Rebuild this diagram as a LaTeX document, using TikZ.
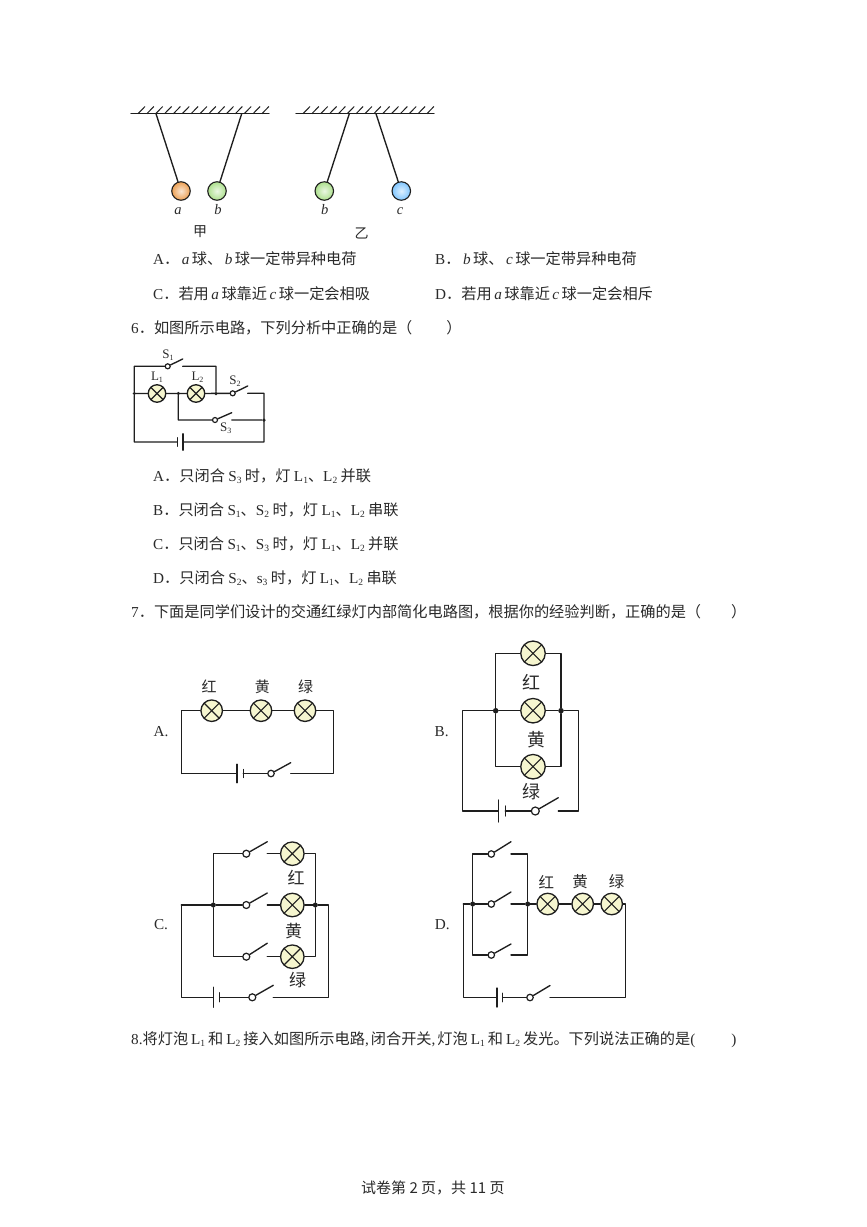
\documentclass[tikz,border=0pt]{standalone}
\usepackage{fontspec}
\setmainfont{Noto Sans CJK SC}
\newfontfamily\lat{Liberation Serif}
\usetikzlibrary{shadings}
\definecolor{ink}{HTML}{1E1E1E}
\definecolor{txt}{HTML}{2A2A2A}
\definecolor{lampc}{HTML}{F6F6CF}
\newcommand{\Lt}[1]{{\lat #1}}
\newcommand{\It}[1]{\hspace{2.5pt}{\lat\itshape #1}\hspace{2.5pt}}
\newcommand{\Sb}[2]{{\lat #1\raisebox{-2.5pt}{\fontsize{9.5}{10}\selectfont #2}}}
\newcommand{\Tb}[2]{\hspace{3pt}{\lat #1\raisebox{-2.5pt}{\fontsize{9.5}{10}\selectfont #2}}\hspace{3pt}}
\newcommand{\Ss}[2]{#1\raisebox{-2pt}{\fontsize{8}{8}\selectfont #2}}
\tikzset{
  wire/.style={draw=ink,line width=1.35pt,line cap=round,line join=round},
  lamp/.style={circle,draw=ink,fill=lampc,line width=1.3pt,inner sep=0pt,minimum size=#1,
    path picture={\draw[ink,line width=1.1pt]
      (path picture bounding box.north west)--(path picture bounding box.south east)
      (path picture bounding box.north east)--(path picture bounding box.south west);}},
  swc/.style={circle,draw=ink,fill=white,line width=1.2pt,inner sep=0pt,minimum size=#1},
  dot/.style={circle,fill=ink,inner sep=0pt,minimum size=#1},
  ball/.style={circle,draw=ink,line width=1.1pt,inner sep=0pt,minimum size=18.5pt,inner color=#1!25!white,outer color=#1},
  line/.style={anchor=base west,inner sep=0pt,text=txt,font=\fontsize{15.2}{18}\selectfont},
  footer/.style={line,font=\fontsize{15}{17}\selectfont},
  lbl/.style={inner sep=0pt,text=txt,font=\fontsize{#1}{#1}\selectfont},
  tiny/.style={inner sep=0pt,text=txt,font=\lat\fontsize{#1}{#1}\selectfont},
}
% switch: name, x, y, diameter, dx, dy
\newcommand{\swt}[6]{%
  \node[swc=#4] (#1) at (#2,#3) {};
  \coordinate (#1c) at (#2+#5,#3);
  \coordinate (#1l) at (#2+#5,#3-#6);
  \draw[wire] (#1) -- (#1l);
}
% battery: name, long x, short x, y, long half, short half
\newcommand{\batt}[6]{%
  \coordinate (#1L) at (#2,#4);
  \coordinate (#1S) at (#3,#4);
  \coordinate (#1La) at (#2,#4-#5);
  \coordinate (#1Lb) at (#2,#4+#5);
  \coordinate (#1Sa) at (#3,#4-#6);
  \coordinate (#1Sb) at (#3,#4+#6);
  \draw[wire] (#1La) -- (#1Lb) (#1Sa) -- (#1Sb);
}
\begin{document}
\begin{tikzpicture}[x=1pt,y=-1pt]
\useasboundingbox (0,0) rectangle (867,1227);
\fill[white] (0,0) rectangle (867,1227);

% ---------- pendulums
\coordinate (ca1) at (131,113.7); \coordinate (ca2) at (269,113.7);
\coordinate (cb1) at (296,113.7); \coordinate (cb2) at (434,113.7);
\draw[wire] (ca1) -- (ca2) (cb1) -- (cb2);
\foreach \i in {0,...,14} {
  \draw[ink,line width=1pt] (138+\i*8.85,113.7) -- ++(7,-7.2);
  \draw[ink,line width=1pt] (303+\i*8.85,113.7) -- ++(7,-7.2);
}
\node[ball=orange!60!brown!75!white] (ba) at (181,191) {};
\node[ball=green!45!olive!45!white] (bb) at (217,191) {};
\node[ball=green!45!olive!45!white] (bd) at (324.3,191) {};
\node[ball=cyan!55!blue!50!white] (bc) at (401.3,191) {};
\coordinate (ha) at (156,113.7); \coordinate (hb) at (241.7,113.7);
\coordinate (hd) at (349.3,113.7); \coordinate (hc) at (376,113.7);
\draw[wire] (ha) -- (ba) (hb) -- (bb) (hd) -- (bd) (hc) -- (bc);
\node[tiny=14.5] (la) at (178,211) {\itshape a};
\node[tiny=14.5] (lb) at (218,210) {\itshape b};
\node[tiny=14.5] (ld) at (324.7,210) {\itshape b};
\node[tiny=14.5] (lc) at (400,211) {\itshape c};
\node[lbl=14] (jia) at (200,231.7) {甲};
\node[lbl=14] (yi) at (361.7,233) {乙};

% ---------- text
\node[line] (t5a) at (153,264) {\Lt{A}．\It{a}球、\It{b}球一定带异种电荷};
\node[line] (t5b) at (435,264) {\Lt{B}．\It{b}球、\It{c}球一定带异种电荷};
\node[line] (t5c) at (153,299) {\Lt{C}．若用\It{a}球靠近\It{c}球一定会相吸};
\node[line] (t5d) at (435,299) {\Lt{D}．若用\It{a}球靠近\It{c}球一定会相斥};
\node[line] (t6) at (131,333) {\Lt{6}．如图所示电路，下列分析中正确的是（\hspace{34pt}）};
\node[line] (o1) at (153,481) {\Lt{A}．只闭合 \Sb{S}{3} 时，灯 \Sb{L}{1}、\Sb{L}{2} 并联};
\node[line] (o2) at (153,515) {\Lt{B}．只闭合 \Sb{S}{1}、\Sb{S}{2} 时，灯 \Sb{L}{1}、\Sb{L}{2} 串联};
\node[line] (o3) at (153,549) {\Lt{C}．只闭合 \Sb{S}{1}、\Sb{S}{3} 时，灯 \Sb{L}{1}、\Sb{L}{2} 并联};
\node[line] (o4) at (153,583) {\Lt{D}．只闭合 \Sb{S}{2}、\Sb{s}{3} 时，灯 \Sb{L}{1}、\Sb{L}{2} 串联};
\node[line] (t7) at (131,617) {\Lt{7}．下面是同学们设计的交通红绿灯内部简化电路图，根据你的经验判断，正确的是（\hspace{30pt}）};
\node[line] (t8) at (131,1044) {\Lt{8.}将灯泡\Tb{L}{1}和\Tb{L}{2}接入如图所示电路\Lt{,}\hspace{2pt}闭合开关\Lt{,}\hspace{2pt}灯泡\Tb{L}{1}和\Tb{L}{2}发光。下列说法正确的是\Lt{(}\hspace{36pt}\Lt{)}};
\node[footer] (foot) at (361,1193) {试卷第 2 页，共 11 页};

% ---------- circuit 6
\coordinate (a1) at (134.3,366.3); \coordinate (a2) at (216,366.3);
\coordinate (a3) at (264,393.3); \coordinate (a4) at (178.3,420);
\coordinate (a5) at (134.3,442); \coordinate (a6) at (264,442);
\node[lamp=17.5pt] (L1) at (157,393.5) {};
\node[lamp=17.5pt] (L2) at (196,393.5) {};
\node[dot=3.5pt] (j1) at (134.3,393.5) {};
\node[dot=3.5pt] (j2) at (178.3,393.5) {};
\node[dot=3.5pt] (j3) at (216,393.5) {};
\node[dot=3.5pt] (j4) at (264,420) {};
\swt{s1}{167.7}{366.3}{5pt}{15}{7.3}
\swt{s2}{232.7}{393.3}{5pt}{15}{7.3}
\swt{s3}{215}{420}{5pt}{16.7}{7.3}
\batt{ba6}{183}{177.3}{442}{8.2}{4.2}
\draw[wire] (j1) -- (a1) -- (s1) (s1c) -- (a2) -- (j3)
  (j1) -- (L1) -- (L2) -- (s2) (s2c) -- (a3) -- (a6) -- (ba6L)
  (ba6S) -- (a5) -- (j1)
  (j2) -- (a4) -- (s3) (s3c) -- (j4);
\node[tiny=13] (ts1) at (168,355) {\Ss{S}{1}};
\node[tiny=13] (tl1) at (157,377) {\Ss{L}{1}};
\node[tiny=13] (tl2) at (197.5,377) {\Ss{L}{2}};
\node[tiny=13] (ts2) at (235,381.5) {\Ss{S}{2}};
\node[tiny=13] (ts3) at (225.7,428.5) {\Ss{S}{3}};

% ---------- circuit A
\node[line,anchor=center] (la7) at (161,731.7) {\Lt{A.}};
\coordinate (A1) at (181.7,710.7); \coordinate (A2) at (333.7,710.7);
\coordinate (A3) at (333.7,773.5); \coordinate (A4) at (181.7,773.5);
\node[lamp=21.5pt] (Ar) at (211.7,710.7) {};
\node[lamp=21.5pt] (Ay) at (261,710.7) {};
\node[lamp=21.5pt] (Ag) at (305,710.7) {};
\swt{Asw}{271}{773.5}{6.5pt}{19.7}{10.8}
\batt{Ab}{237}{243.3}{773.5}{9.3}{4}
\draw[wire] (A4) -- (A1) -- (Ar) -- (Ay) -- (Ag) -- (A2) -- (A3) -- (Aswc)
  (Asw) -- (AbS) (AbL) -- (A4);
\node[lbl=15] (Atr) at (209,686.7) {红};
\node[lbl=15] (Aty) at (262.3,686.7) {黄};
\node[lbl=15] (Atg) at (305.7,686.7) {绿};

% ---------- circuit B
\node[line,anchor=center] (lb7) at (441.7,731.7) {\Lt{B.}};
\coordinate (B1) at (495.7,653.3); \coordinate (B2) at (561,653.3);
\coordinate (B3) at (495.7,766.7); \coordinate (B4) at (561,766.7);
\coordinate (B5) at (462.7,710.7); \coordinate (B6) at (578.7,710.7);
\coordinate (B7) at (462.7,811); \coordinate (B8) at (578.7,811);
\node[lamp=24.5pt] (Br) at (533,653.3) {};
\node[lamp=24.5pt] (By) at (533,710.7) {};
\node[lamp=24.5pt] (Bg) at (533,766.7) {};
\node[dot=5.5pt] (Bj1) at (495.7,710.7) {};
\node[dot=5.5pt] (Bj2) at (561,710.7) {};
\swt{Bsw}{535.3}{811}{8pt}{23}{13.3}
\batt{Bb}{498.3}{505.3}{811}{11}{5}
\draw[wire] (B5) -- (Bj1) -- (By) -- (Bj2) -- (B6) -- (B8) -- (Bswc)
  (Bsw) -- (BbS) (BbL) -- (B7) -- (B5)
  (Bj1) -- (B1) -- (Br) -- (B2) -- (Bj2)
  (Bj1) -- (B3) -- (Bg) -- (B4) -- (Bj2);
\node[lbl=18] (Btr) at (531.7,681.7) {红};
\node[lbl=18] (Bty) at (536.7,739.3) {黄};
\node[lbl=18] (Btg) at (531.7,791.7) {绿};

% ---------- circuit C
\node[line,anchor=center] (lc7) at (161,925) {\Lt{C.}};
\coordinate (C1) at (213.3,853.7); \coordinate (C2) at (315.3,853.7);
\coordinate (C3) at (213.3,956.7); \coordinate (C4) at (315.3,956.7);
\coordinate (C5) at (181.3,905); \coordinate (C6) at (328.3,905);
\coordinate (C7) at (181.3,997.3); \coordinate (C8) at (328.3,997.3);
\node[lamp=23.5pt] (Cr) at (292.3,853.7) {};
\node[lamp=23.5pt] (Cy) at (292.3,905) {};
\node[lamp=23.5pt] (Cg) at (292.3,956.7) {};
\node[dot=5pt] (Cj1) at (213.3,905) {};
\node[dot=5pt] (Cj2) at (315.3,905) {};
\swt{Cs1}{246.3}{853.7}{7pt}{21}{12}
\swt{Cs2}{246.3}{905}{7pt}{21}{12}
\swt{Cs3}{246.3}{956.7}{7pt}{21}{13.5}
\swt{Cs4}{252.3}{997.3}{7pt}{21}{12}
\batt{Cb}{213.3}{219.7}{997.3}{10}{4.5}
\draw[wire] (C5) -- (Cj1) -- (Cs2) (Cs2c) -- (Cy) -- (Cj2) -- (C6) -- (C8) -- (Cs4c)
  (Cs4) -- (CbS) (CbL) -- (C7) -- (C5)
  (Cj1) -- (C1) -- (Cs1) (Cs1c) -- (Cr) -- (C2) -- (Cj2)
  (Cj1) -- (C3) -- (Cs3) (Cs3c) -- (Cg) -- (C4) -- (Cj2);
\node[lbl=17] (Ctr) at (296,877.3) {红};
\node[lbl=17] (Cty) at (293.7,930.7) {黄};
\node[lbl=17] (Ctg) at (297.7,980) {绿};

% ---------- circuit D
\node[line,anchor=center] (ld7) at (442.3,925) {\Lt{D.}};
\coordinate (D1) at (472.7,854); \coordinate (D2) at (527.7,854);
\coordinate (D3) at (472.7,955); \coordinate (D4) at (527.7,955);
\coordinate (D5) at (463.3,904); \coordinate (D6) at (625.7,904);
\coordinate (D7) at (463.3,997.5); \coordinate (D8) at (625.7,997.5);
\node[lamp=21.5pt] (Dr) at (547.7,904) {};
\node[lamp=21.5pt] (Dy) at (582.7,904) {};
\node[lamp=21.5pt] (Dg) at (611.7,904) {};
\node[dot=5pt] (Dj1) at (472.7,904) {};
\node[dot=5pt] (Dj2) at (527.7,904) {};
\swt{Ds1}{491.3}{854}{6.5pt}{19.7}{12.3}
\swt{Ds2}{491.3}{904}{6.5pt}{19.7}{12}
\swt{Ds3}{491.3}{955}{6.5pt}{19.7}{11}
\swt{Ds4}{530}{997.5}{6.5pt}{20}{12}
\batt{Db}{497}{502.7}{997.5}{9.5}{4.2}
\draw[wire] (D5) -- (Dj1) -- (Ds2) (Ds2c) -- (Dj2) -- (Dr) -- (Dy) -- (Dg) -- (D6) -- (D8) -- (Ds4c)
  (Ds4) -- (DbS) (DbL) -- (D7) -- (D5)
  (Dj1) -- (D1) -- (Ds1) (Ds1c) -- (D2) -- (Dj2)
  (Dj1) -- (D3) -- (Ds3) (Ds3c) -- (D4) -- (Dj2);
\node[lbl=15.5] (Dtr) at (546.3,881.7) {红};
\node[lbl=15.5] (Dty) at (580,881.7) {黄};
\node[lbl=15.5] (Dtg) at (616.7,881.7) {绿};
\end{tikzpicture}
\end{document}
